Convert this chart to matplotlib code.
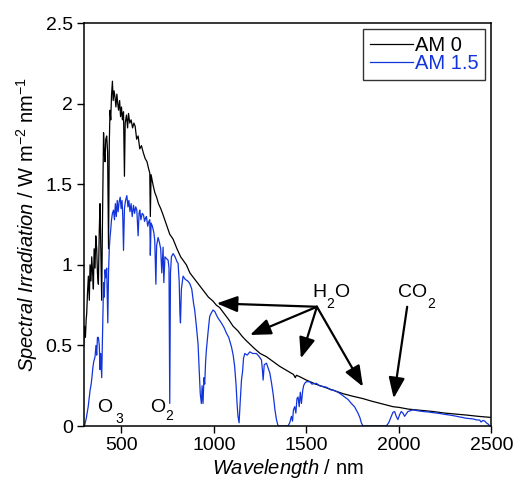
import matplotlib
matplotlib.use("Agg")
import matplotlib.pyplot as plt
from matplotlib.ticker import FuncFormatter

plt.rcParams['font.family'] = ['Liberation Sans', 'DejaVu Sans']
plt.rcParams['mathtext.fontset'] = 'custom'
plt.rcParams['mathtext.rm'] = 'Liberation Sans'
plt.rcParams['mathtext.it'] = 'Liberation Sans:italic'

# AM 0 spectrum
am0_nm = [296, 300, 305, 309, 312, 316, 321, 326, 330, 335, 339, 344, 348, 352, 357, 361, 366,
          370, 375, 380, 384, 388, 393, 397, 403, 407, 411, 415, 420, 425, 430, 434, 438,
          442, 446, 451, 455, 460, 465, 470, 475, 480, 484, 490, 495, 500, 505, 511, 516,
          520, 527, 533, 538, 545, 552, 560, 567, 574, 582, 590, 599, 608, 617, 628, 638,
          646, 653, 656, 660, 670, 680, 690, 700, 712, 725, 740, 752, 761, 779, 800, 820,
          851, 870, 890, 923, 950, 970, 995, 1013, 1031, 1060, 1080, 1103, 1130, 1150, 1170,
          1193, 1220, 1250, 1284, 1320, 1356, 1374, 1400, 1430, 1440, 1446, 1464, 1500, 1550,
          1600, 1644, 1700, 1750, 1806, 1850, 1900, 1968, 2004, 2050, 2094, 2150, 2184,
          2250, 2300, 2365, 2430, 2491, 2500]
am0_val = [0.51, 0.62, 0.55, 0.66, 0.70, 0.82, 0.93, 0.78, 1.00, 0.90, 1.05, 0.95, 0.85, 1.10, 0.98, 1.18, 1.10,
           0.95, 0.88, 1.22, 1.38, 1.10, 0.78, 1.25, 1.82, 1.70, 1.64, 1.78, 1.80, 1.70, 1.10, 1.75, 1.96,
           1.90, 2.05, 2.14, 2.02, 2.08, 2.04, 1.98, 2.06, 2.00, 1.96, 2.02, 1.92, 1.98, 1.90, 1.95, 1.55,
           1.88, 1.93, 1.85, 1.94, 1.88, 1.90, 1.85, 1.88, 1.86, 1.78, 1.80, 1.72, 1.74, 1.70, 1.66, 1.64,
           1.60, 1.57, 1.30, 1.56, 1.50, 1.45, 1.42, 1.38, 1.35, 1.31, 1.26, 1.22, 1.19, 1.16, 1.10, 1.05,
           1.00, 0.95, 0.92, 0.87, 0.83, 0.80, 0.775, 0.75, 0.735, 0.69, 0.66, 0.62, 0.59, 0.56, 0.535,
           0.51, 0.48, 0.45, 0.43, 0.40, 0.37, 0.358, 0.34, 0.32, 0.30, 0.315, 0.306, 0.285, 0.26,
           0.24, 0.223, 0.20, 0.185, 0.17, 0.155, 0.14, 0.12, 0.115, 0.105, 0.10, 0.093, 0.09,
           0.08, 0.075, 0.068, 0.06, 0.054, 0.053]

# AM 1.5 spectrum
am15_nm = [300, 310, 320, 330, 336, 340, 345, 350, 357, 362, 366, 370, 375, 380, 384, 388,
           393, 397, 403, 407, 411, 415, 420, 426, 430, 434, 438, 442, 446, 451, 457, 462,
           467, 472, 477, 482, 487, 493, 498, 503, 507, 511, 516, 522, 529, 535, 540, 546,
           552, 558, 565, 571, 577, 583, 590, 595, 599, 605, 612, 619, 625, 630, 635, 642,
           648, 653, 656, 660, 667, 675, 680, 686, 690, 698, 705, 712, 718, 725, 729, 735,
           742, 752, 757, 761, 765, 770, 779, 790, 800, 806, 812, 816, 819, 824, 833, 845,
           858, 869, 880, 890, 896, 905, 914, 920, 926, 932, 936, 941, 946, 950, 955, 959,
           968, 977, 985, 995, 1005, 1013, 1022, 1040, 1055, 1068, 1080, 1095, 1104, 1112,
           1120, 1125, 1130, 1136, 1142, 1149, 1155, 1160, 1167, 1180, 1194, 1210, 1230,
           1245, 1257, 1262, 1266, 1272, 1284, 1293, 1302, 1311, 1320, 1330, 1338, 1347,
           1400, 1410, 1419, 1425, 1430, 1437, 1443, 1449, 1455, 1461, 1467, 1473, 1480,
           1485, 1491, 1500, 1518, 1530, 1554, 1570, 1590, 1610, 1630, 1644, 1670, 1690,
           1707, 1725, 1743, 1760, 1779, 1790, 1797, 1806, 1932, 1945, 1959, 1968, 1977,
           1986, 1995, 2004, 2013, 2022, 2031, 2040, 2049, 2062, 2076, 2100, 2130, 2160,
           2184, 2220, 2250, 2275, 2300, 2330, 2365, 2400, 2420, 2437, 2445, 2455, 2465,
           2473, 2485, 2491]
am15_val = [0.0, 0.05, 0.12, 0.22, 0.26, 0.30, 0.36, 0.40, 0.43, 0.50, 0.44, 0.55, 0.55, 0.50, 0.35, 0.45,
            0.30, 0.55, 0.89, 0.80, 0.97, 0.92, 0.98, 0.64, 0.95, 1.10, 1.17, 1.22, 1.28, 1.32, 1.34, 1.28,
            1.38, 1.30, 1.40, 1.33, 1.39, 1.42, 1.35, 1.40, 1.30, 1.09, 1.35, 1.40, 1.43, 1.36, 1.40, 1.33,
            1.38, 1.30, 1.37, 1.32, 1.36, 1.34, 1.18, 1.32, 1.34, 1.28, 1.32, 1.31, 1.27, 1.29, 1.30, 1.24,
            1.27, 1.28, 1.06, 1.26, 1.24, 1.20, 1.15, 0.88, 1.12, 1.17, 1.14, 1.10, 0.95, 1.11, 0.89, 1.05,
            1.04, 1.03, 0.98, 0.14, 0.95, 1.05, 1.07, 1.05, 1.02, 1.01, 0.90, 0.70, 0.64, 0.85, 0.93, 0.91,
            0.90, 0.885, 0.85, 0.76, 0.72, 0.62, 0.51, 0.35, 0.20, 0.14, 0.25, 0.14, 0.30, 0.26, 0.40, 0.47,
            0.58, 0.68, 0.70, 0.72, 0.71, 0.69, 0.67, 0.64, 0.61, 0.575, 0.55, 0.49, 0.44, 0.37,
            0.25, 0.14, 0.06, 0.02, 0.15, 0.285, 0.34, 0.42, 0.45, 0.44, 0.46, 0.45, 0.45,
            0.43, 0.41, 0.35, 0.285, 0.38, 0.39, 0.36, 0.33, 0.27, 0.20, 0.10, 0.04, 0.0,
            0.0, 0.02, 0.06, 0.03, 0.10, 0.12, 0.08, 0.17, 0.18, 0.12, 0.21, 0.14, 0.22,
            0.25, 0.265, 0.275, 0.275, 0.26, 0.265, 0.25, 0.245, 0.24, 0.225, 0.223, 0.21, 0.195,
            0.18, 0.165, 0.14, 0.12, 0.08, 0.05, 0.02, 0.0, 0.0, 0.02, 0.06, 0.085, 0.09,
            0.06, 0.04, 0.07, 0.09, 0.08, 0.06, 0.075, 0.09, 0.095, 0.10, 0.095, 0.09, 0.087,
            0.083, 0.078, 0.072, 0.068, 0.063, 0.056, 0.048, 0.044, 0.038, 0.037, 0.025, 0.035, 0.03,
            0.02, 0.01, 0.0]

x_ticks = [500, 1000, 1500, 2000, 2500]
y_ticks = [0, 0.5, 1, 1.5, 2, 2.5]

blue = '#1234dc'

fig = plt.figure(figsize=(5.15, 4.83), dpi=100)
ax = fig.add_axes([0.163, 0.118, 0.791, 0.834])

ax.plot(am0_nm, am0_val, color='black', lw=0.9, label='AM 0')
ax.plot(am15_nm, am15_val, color=blue, lw=0.9, label='AM 1.5')

ax.set_xlim(297, 2500)
ax.set_ylim(0, 2.5)
ax.set_xticks(x_ticks)
ax.set_yticks(y_ticks)
ax.yaxis.set_major_formatter(FuncFormatter(lambda v, p: '%g' % v))
ax.tick_params(direction='out', length=5, width=1, labelsize=14, pad=3)
for s in ax.spines.values():
    s.set_linewidth(1.1)

ax.set_xlabel(r'$\mathit{Wavelength}$ / nm', fontsize=14.5, labelpad=2)
ax.set_ylabel(r'$\mathit{Spectral\ Irradiation}$ / W m$^{-2}$ nm$^{-1}$', fontsize=14.5, labelpad=4)

leg = ax.legend(loc='upper right', fontsize=14.5, frameon=True, fancybox=False,
                edgecolor='black', handlelength=2.1, handletextpad=0.1,
                borderaxespad=0.3, borderpad=0.35, labelspacing=-0.05,
                labelcolor='linecolor')
leg.get_frame().set_linewidth(1.0)

# molecule labels (big letter + lowered subscript)
fs, sfs = 14, 10
ax.text(366, 0.087, 'O', fontsize=fs)
ax.text(469, 0.019, '3', fontsize=sfs)
ax.text(653, 0.087, 'O', fontsize=fs)
ax.text(735, 0.037, '2', fontsize=sfs)
ax.text(1535, 0.798, 'H', fontsize=fs)
ax.text(1607, 0.730, '2', fontsize=sfs)
ax.text(1652, 0.798, 'O', fontsize=fs)
ax.text(1994, 0.798, 'CO', fontsize=fs)
ax.text(2153, 0.730, '2', fontsize=sfs)

arrow = dict(arrowstyle='-|>,head_length=0.9,head_width=0.35', color='black',
             lw=1.6, shrinkA=0, shrinkB=0, mutation_scale=14)
h2o_start = (1557, 0.74)
for tip in [(1015, 0.761), (1195, 0.565), (1470, 0.42), (1806, 0.244)]:
    ax.annotate('', xy=tip, xytext=h2o_start, arrowprops=arrow)
ax.annotate('', xy=(1972, 0.172), xytext=(2045, 0.74), arrowprops=arrow)

fig.savefig('out.png', dpi=100)
